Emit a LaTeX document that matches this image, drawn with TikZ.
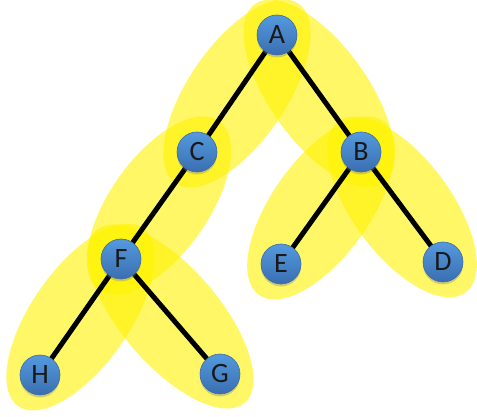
\documentclass[tikz,border=0pt]{standalone}
\usepackage{fontspec}
\setmainfont{Carlito}
\usetikzlibrary{shapes.geometric,shadows,calc}
\pgfdeclarelayer{hlayer}
\pgfdeclarelayer{elayer}
\pgfsetlayers{hlayer,elayer,main}
\definecolor{nodetop}{HTML}{5499DE}
\definecolor{nodebot}{HTML}{3A6FB2}
\definecolor{nodeedge}{HTML}{3E6CA6}
\tikzset{
  vert/.style={circle, minimum size=40pt, inner sep=0pt,
    top color=nodetop, bottom color=nodebot, draw=nodeedge, line width=0.6pt,
    drop shadow={opacity=0.35, shadow xshift=0pt, shadow yshift=-2.5pt},
    font=\fontsize{28}{30}\selectfont, text=black!90},
  link/.style={line width=5pt, black},
  halo/.style={ellipse, fill=yellow, opacity=0.6, inner sep=0pt,
    minimum height=98pt},
}
% yellow halo around the edge between two vertices
\newcommand\halopair[3]{%
  \path let \p1=(#1), \p2=(#2),
    \n1={atan2(\y2-\y1,\x2-\x1)},
    \n2={veclen(\x2-\x1,\y2-\y1)+76pt} in
    node[halo, minimum width=\n2, rotate=\n1] (#3) at ($(\p1)!0.5!(\p2)$) {};}
\begin{document}
\begin{tikzpicture}[x=1pt, y=-1pt]
  \useasboundingbox (0,0) rectangle (477,417);
  % vertices
  \node[vert] (A) at (277,35) {A};
  \node[vert] (C) at (197,152) {C};
  \node[vert] (B) at (361,152) {B};
  \node[vert] (F) at (121,259) {F};
  \node[vert] (E) at (281,264) {E};
  \node[vert] (D) at (443,262) {D};
  \node[vert] (H) at (40,375) {H};
  \node[vert] (G) at (220,374) {G};
  % highlighted edge regions
  \begin{pgfonlayer}{hlayer}
    \halopair{A}{C}{hAC}
    \halopair{A}{B}{hAB}
    \halopair{C}{F}{hCF}
    \halopair{B}{E}{hBE}
    \halopair{B}{D}{hBD}
    \halopair{F}{H}{hFH}
    \halopair{F}{G}{hFG}
  \end{pgfonlayer}
  % tree edges
  \begin{pgfonlayer}{elayer}
    \draw[link] (A.center) -- (C.center);
    \draw[link] (A.center) -- (B.center);
    \draw[link] (C.center) -- (F.center);
    \draw[link] (B.center) -- (E.center);
    \draw[link] (B.center) -- (D.center);
    \draw[link] (F.center) -- (H.center);
    \draw[link] (F.center) -- (G.center);
  \end{pgfonlayer}
\end{tikzpicture}
\end{document}
